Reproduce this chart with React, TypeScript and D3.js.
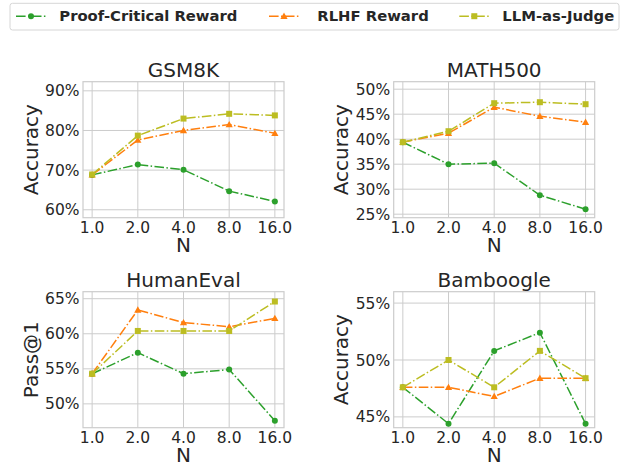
import React from 'react';
import * as d3 from 'd3';

const nLabels = ['1.0', '2.0', '4.0', '8.0', '16.0'];
const seriesNames = ['Proof-Critical Reward', 'RLHF Reward', 'LLM-as-Judge'];
const seriesColors = ['#2ca02c', '#ff7f0e', '#bcbd22'];

const gsm8kProof = [68.8, 71.4, 70.1, 64.7, 62.1];
const gsm8kRlhf = [68.8, 77.6, 80.0, 81.5, 79.3];
const gsm8kJudge = [68.9, 78.7, 83.0, 84.2, 83.8];

const math500Proof = [39.4, 35.0, 35.2, 28.8, 26.0];
const math500Rlhf = [39.4, 41.2, 46.4, 44.6, 43.4];
const math500Judge = [39.4, 41.6, 47.2, 47.4, 47.0];

const humanevalProof = [54.3, 57.3, 54.3, 54.9, 47.6];
const humanevalRlhf = [54.3, 63.4, 61.6, 61.0, 62.2];
const humanevalJudge = [54.3, 60.4, 60.4, 60.4, 64.6];

const bamboogleProof = [47.6, 44.4, 50.8, 52.4, 44.4];
const bamboogleRlhf = [47.6, 47.6, 46.8, 48.4, 48.4];
const bamboogleJudge = [47.6, 50.0, 47.6, 50.8, 48.4];

const gsm8kTicks = [60, 70, 80, 90];
const math500Ticks = [25, 30, 35, 40, 45, 50];
const humanevalTicks = [50, 55, 60, 65];
const bamboogleTicks = [45, 50, 55];

const panels = [
  { title: 'GSM8K', ylabel: 'Accuracy', series: [gsm8kProof, gsm8kRlhf, gsm8kJudge], ticks: gsm8kTicks, domain: [58, 92.3], left: 83, top: 81.7 },
  { title: 'MATH500', ylabel: 'Accuracy', series: [math500Proof, math500Rlhf, math500Judge], ticks: math500Ticks, domain: [24.3, 51.5], left: 393.7, top: 81.7 },
  { title: 'HumanEval', ylabel: 'Pass@1', series: [humanevalProof, humanevalRlhf, humanevalJudge], ticks: humanevalTicks, domain: [46.6, 66.0], left: 83, top: 291.7 },
  { title: 'Bamboogle', ylabel: 'Accuracy', series: [bamboogleProof, bamboogleRlhf, bamboogleJudge], ticks: bamboogleTicks, domain: [44.05, 56.0], left: 393.7, top: 291.7 },
];

const W = 201;
const H = 136;
const FONT = 'DejaVu Sans, sans-serif';
const TEXT = '#262626';
const GRID = '#cccccc';
const DASH = '9.6 2.4 1.5 2.4';

function Marker({ kind, x, y, color }: { kind: number; x: number; y: number; color: string }) {
  if (kind === 0) return <circle cx={x} cy={y} r={3} fill={color} />;
  if (kind === 1) {
    const s = 3.6;
    return <path d={`M${x},${y - s}L${x + s},${y + s * 0.75}L${x - s},${y + s * 0.75}Z`} fill={color} />;
  }
  return <rect x={x - 3} y={y - 3} width={6} height={6} fill={color} />;
}

function Panel({ p }: { p: typeof panels[number] }) {
  const x = d3.scaleLinear().domain([-0.2, 4.2]).range([0, W]);
  const y = d3.scaleLinear().domain(p.domain).range([H, 0]);
  const line = d3.line<number>().x((_, i) => x(i)).y(d => y(d));
  return (
    <g transform={`translate(${p.left},${p.top})`}>
      {nLabels.map((_, i) => (
        <line key={'gx' + i} x1={x(i)} x2={x(i)} y1={0} y2={H} stroke={GRID} strokeWidth={1} />
      ))}
      {p.ticks.map(t => (
        <line key={'gy' + t} x1={0} x2={W} y1={y(t)} y2={y(t)} stroke={GRID} strokeWidth={1} />
      ))}
      <rect x={0} y={0} width={W} height={H} fill="none" stroke={GRID} strokeWidth={1.2} />
      {p.series.map((s, k) => (
        <g key={k}>
          <path d={line(s) || ''} fill="none" stroke={seriesColors[k]} strokeWidth={1.5} strokeDasharray={DASH} />
          {s.map((v, i) => (
            <Marker key={i} kind={k} x={x(i)} y={y(v)} color={seriesColors[k]} />
          ))}
        </g>
      ))}
      {nLabels.map((lab, i) => (
        <text key={'tx' + i} x={x(i)} y={H + 15.5} textAnchor="middle" fontSize={15.5} fill={TEXT}>{lab}</text>
      ))}
      {p.ticks.map(t => (
        <text key={'ty' + t} x={-3.5} y={y(t)} dy="0.36em" textAnchor="end" fontSize={15.5} fill={TEXT}>{t}%</text>
      ))}
      <text x={W / 2} y={-4.4} textAnchor="middle" fontSize={20} fill={TEXT}>{p.title}</text>
      <text x={W / 2} y={H + 34} textAnchor="middle" fontSize={20} fill={TEXT}>N</text>
      <text transform={`translate(-45.5,${H / 2}) rotate(-90)`} textAnchor="middle" fontSize={20} fill={TEXT}>{p.ylabel}</text>
    </g>
  );
}

const legendHandles = [16, 269, 459.3];
const legendTexts = [59.3, 317.3, 502.3];

export default function App() {
  return (
    <svg width={622} height={467} style={{ position: 'absolute', left: 0, top: 0, background: '#fff' }} fontFamily={FONT}>
      <rect x={0} y={0} width={622} height={467} fill="#fff" />
      {panels.map(p => <Panel key={p.title} p={p} />)}
      <rect x={10} y={3.3} width={609} height={26.7} rx={2.5} fill="#fff" stroke="#d6d6d6" strokeWidth={1} />
      {seriesNames.map((name, k) => (
        <g key={name}>
          <line x1={legendHandles[k]} x2={legendHandles[k] + 30} y1={16.2} y2={16.2} stroke={seriesColors[k]} strokeWidth={1.5} strokeDasharray={DASH} />
          <Marker kind={k} x={legendHandles[k] + 15} y={16.2} color={seriesColors[k]} />
          <text x={legendTexts[k]} y={21.2} fontSize={14.8} fontWeight="bold" fill={TEXT}>{name}</text>
        </g>
      ))}
    </svg>
  );
}
